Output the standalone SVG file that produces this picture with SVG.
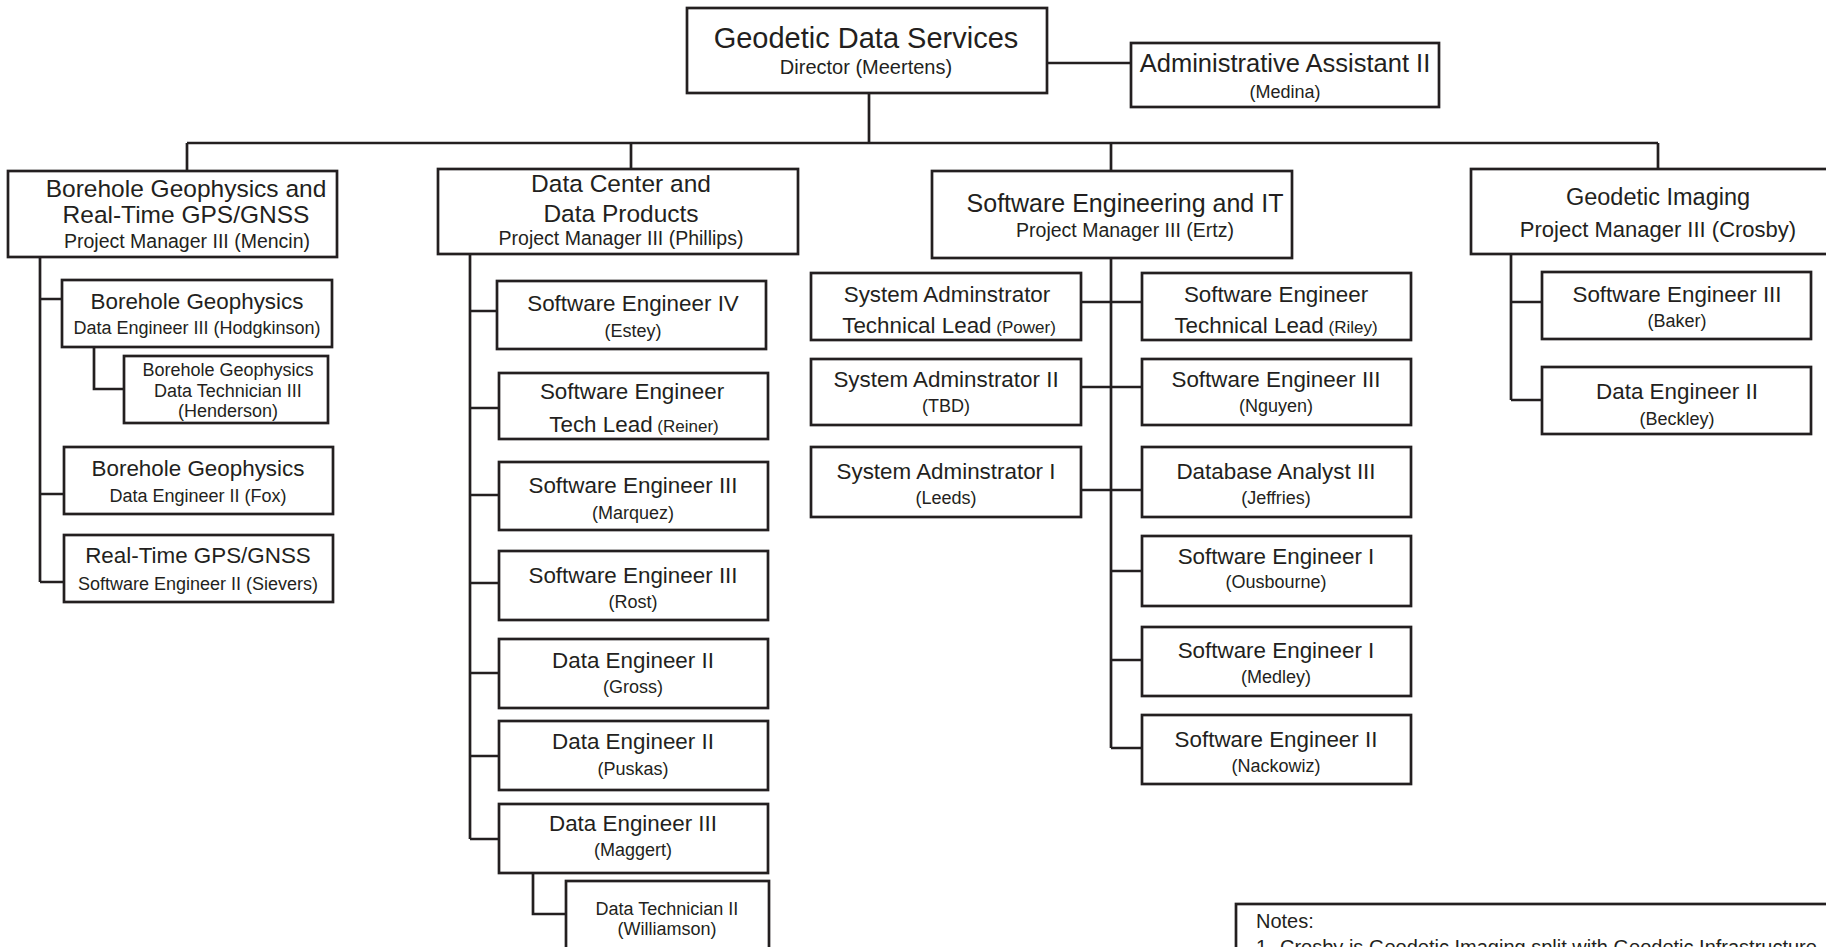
<svg xmlns="http://www.w3.org/2000/svg" width="1826" height="947" viewBox="0 0 1826 947">
<style>
.box{fill:#fff;stroke:#231f20;stroke-width:2.7}
.ln{fill:none;stroke:#231f20;stroke-width:2.7}
text{font-family:"Liberation Sans",Arial,sans-serif;fill:#231f20;text-anchor:middle}
.h0{font-size:29px}
.h1{font-size:24.5px}
.pm{font-size:19.5px}
.t{font-size:22.4px}
.n{font-size:18px}
.s{font-size:17px}
.note{font-size:20px;text-anchor:start}
</style>
<rect width="1826" height="947" fill="#fff"/>
<g id="connectors" class="ln">
<path d="M1047 63H1131M869 93V143M187 143H1658M187 143V171M631 143V169M1111 143V171M1658 143V169"/>
<path d="M40 257V582M40 299H62M40 494H64M40 582H64M94 347V389H124"/>
<path d="M470 254V839M470 311H497M470 408H499M470 495H499M470 583H499M470 673H499M470 756H499M470 839H499M533 873V914H566"/>
<path d="M1111 258V748M1081 302H1142M1081 387H1142M1081 490H1142M1111 571H1142M1111 660H1142M1111 748H1142"/>
<path d="M1511 254V400M1511 302H1542M1511 400H1542"/>
</g>
<g id="director"><rect class="box" x="687" y="8" width="360" height="85"/><text class="h0" x="866" y="48">Geodetic Data Services</text><text x="866" y="74" style="font-size:20px">Director (Meertens)</text></g>
<g id="admin"><rect class="box" x="1131" y="43" width="308" height="64"/><text x="1285" y="72" style="font-size:25.5px">Administrative Assistant II</text><text class="n" x="1285" y="98">(Medina)</text></g>
<g id="borehole-rt"><rect class="box" x="8" y="171" width="329" height="86"/><text class="h1" x="186" y="197">Borehole Geophysics and</text><text class="h1" x="186" y="223">Real-Time GPS/GNSS</text><text class="pm" x="187" y="248">Project Manager III (Mencin)</text></g>
<g id="datacenter"><rect class="box" x="438" y="169" width="360" height="85"/><text class="h1" x="621" y="192">Data Center and</text><text class="h1" x="621" y="222">Data Products</text><text class="pm" x="621" y="245">Project Manager III (Phillips)</text></g>
<g id="sweit"><rect class="box" x="932" y="171" width="360" height="87"/><text x="1125" y="212" style="font-size:25px">Software Engineering and IT</text><text class="pm" x="1125" y="237">Project Manager III (Ertz)</text></g>
<g id="imaging"><rect class="box" x="1471" y="169" width="374" height="85"/><text x="1658" y="205" style="font-size:23.5px">Geodetic Imaging</text><text x="1658" y="237" style="font-size:22px">Project Manager III (Crosby)</text></g>
<g id="hodgkinson"><rect class="box" x="62" y="280" width="270" height="67"/><text class="t" x="197" y="309">Borehole Geophysics</text><text class="n" x="197" y="334">Data Engineer III (Hodgkinson)</text></g>
<g id="henderson"><rect class="box" x="124" y="356" width="204" height="67"/><text class="n" x="228" y="376">Borehole Geophysics</text><text class="n" x="228" y="397">Data Technician III</text><text class="n" x="228" y="417">(Henderson)</text></g>
<g id="fox"><rect class="box" x="64" y="447" width="269" height="67"/><text class="t" x="198" y="476">Borehole Geophysics</text><text class="n" x="198" y="502">Data Engineer II (Fox)</text></g>
<g id="sievers"><rect class="box" x="64" y="535" width="269" height="67"/><text class="t" x="198" y="563">Real-Time GPS/GNSS</text><text class="n" x="198" y="590">Software Engineer II (Sievers)</text></g>
<g id="estey"><rect class="box" x="497" y="281" width="269" height="68"/><text class="t" x="633" y="311">Software Engineer IV</text><text class="n" x="633" y="337">(Estey)</text></g>
<g id="reiner"><rect class="box" x="499" y="373" width="269" height="66"/><text class="t" x="632" y="399">Software Engineer</text><text x="634" y="432"><tspan class="t">Tech Lead</tspan><tspan class="s"> (Reiner)</tspan></text></g>
<g id="marquez"><rect class="box" x="499" y="462" width="269" height="68"/><text class="t" x="633" y="493">Software Engineer III</text><text class="n" x="633" y="519">(Marquez)</text></g>
<g id="rost"><rect class="box" x="499" y="551" width="269" height="69"/><text class="t" x="633" y="583">Software Engineer III</text><text class="n" x="633" y="608">(Rost)</text></g>
<g id="gross"><rect class="box" x="499" y="639" width="269" height="69"/><text class="t" x="633" y="668">Data Engineer II</text><text class="n" x="633" y="693">(Gross)</text></g>
<g id="puskas"><rect class="box" x="499" y="721" width="269" height="69"/><text class="t" x="633" y="749">Data Engineer II</text><text class="n" x="633" y="775">(Puskas)</text></g>
<g id="maggert"><rect class="box" x="499" y="804" width="269" height="69"/><text class="t" x="633" y="831">Data Engineer III</text><text class="n" x="633" y="856">(Maggert)</text></g>
<g id="williamson"><rect class="box" x="566" y="881" width="203" height="72"/><text class="n" x="667" y="915">Data Technician II</text><text class="n" x="667" y="935">(Williamson)</text></g>
<g id="power"><rect class="box" x="811" y="273" width="270" height="67"/><text class="t" x="947" y="302">System Adminstrator</text><text x="949" y="333"><tspan class="t">Technical Lead</tspan><tspan class="s"> (Power)</tspan></text></g>
<g id="tbd"><rect class="box" x="811" y="359" width="270" height="66"/><text class="t" x="946" y="387">System Adminstrator II</text><text class="n" x="946" y="412">(TBD)</text></g>
<g id="leeds"><rect class="box" x="811" y="447" width="270" height="70"/><text class="t" x="946" y="479">System Adminstrator I</text><text class="n" x="946" y="504">(Leeds)</text></g>
<g id="riley"><rect class="box" x="1142" y="273" width="269" height="67"/><text class="t" x="1276" y="302">Software Engineer</text><text x="1276" y="333"><tspan class="t">Technical Lead</tspan><tspan class="s"> (Riley)</tspan></text></g>
<g id="nguyen"><rect class="box" x="1142" y="359" width="269" height="66"/><text class="t" x="1276" y="387">Software Engineer III</text><text class="n" x="1276" y="412">(Nguyen)</text></g>
<g id="jeffries"><rect class="box" x="1142" y="447" width="269" height="70"/><text class="t" x="1276" y="479">Database Analyst III</text><text class="n" x="1276" y="504">(Jeffries)</text></g>
<g id="ousbourne"><rect class="box" x="1142" y="536" width="269" height="70"/><text class="t" x="1276" y="564">Software Engineer I</text><text class="n" x="1276" y="588">(Ousbourne)</text></g>
<g id="medley"><rect class="box" x="1142" y="627" width="269" height="69"/><text class="t" x="1276" y="658">Software Engineer I</text><text class="n" x="1276" y="683">(Medley)</text></g>
<g id="nackowiz"><rect class="box" x="1142" y="715" width="269" height="69"/><text class="t" x="1276" y="747">Software Engineer II</text><text class="n" x="1276" y="772">(Nackowiz)</text></g>
<g id="baker"><rect class="box" x="1542" y="272" width="269" height="67"/><text class="t" x="1677" y="302">Software Engineer III</text><text class="n" x="1677" y="327">(Baker)</text></g>
<g id="beckley"><rect class="box" x="1542" y="367" width="269" height="67"/><text class="t" x="1677" y="399">Data Engineer II</text><text class="n" x="1677" y="425">(Beckley)</text></g>
<g id="notes"><rect class="box" x="1236" y="904" width="620" height="80"/><text class="note" x="1256" y="928">Notes:</text><text class="note" y="954"><tspan x="1256">1.</tspan><tspan x="1280">Crosby is Geodetic Imaging split with Geodetic Infrastructure</tspan></text></g>
</svg>
